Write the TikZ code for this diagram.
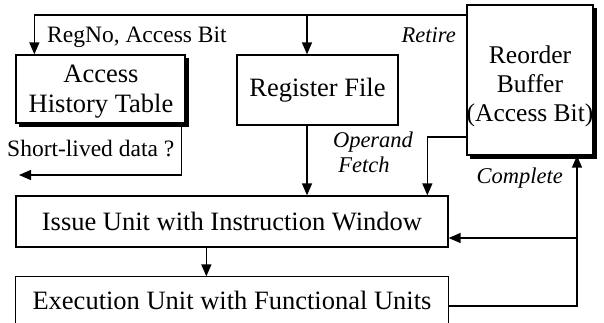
\documentclass[tikz,border=0pt]{standalone}
\usepackage{fontspec}
\setmainfont{Liberation Serif}
\usetikzlibrary{arrows.meta,calc}
\begin{document}
\begin{tikzpicture}[x=1pt,y=-1pt,
  box/.style={draw,line width=1.3pt,fill=white,inner sep=0pt,align=center,font=\fontsize{26.5}{30}\selectfont},
  boxtext/.style={inner sep=0pt,align=center,font=\fontsize{26.5}{30}\selectfont},
  conn/.style={line width=1.4pt},
  arr/.style={conn,-{Triangle[length=12pt,width=10pt]}},
  lbl/.style={font=\fontsize{23.5}{24}\selectfont,inner sep=0pt},
  ilbl/.style={font=\fontsize{22.5}{24}\selectfont\itshape,inner sep=0pt}]
\useasboundingbox (0,0) rectangle (604,323);
% shadows
\fill (19,58) rectangle (189,127);
\fill (470,8) rectangle (597,159);
% boxes
\node[box,minimum width=169pt,minimum height=68pt] (aht) at (100.5,89) {};
\node[boxtext] (ahtt) at (101,92) {Access\\History Table};
\node[box,minimum width=161pt,minimum height=70pt] (rf) at (317.5,90) {Register File};
\node[box,minimum width=126pt,minimum height=150pt] (rob) at (530,80) {};
\node[boxtext,font=\fontsize{25.5}{29}\selectfont] (robt) at (530,86) {Reorder\\Buffer\\(Access Bit)};
\node[box,minimum width=432pt,minimum height=51pt] (iu) at (232,221.5) {Issue Unit with Instruction Window};
\node[box,draw=none,fill=none,minimum width=432pt,minimum height=46pt] (eu) at (232,300) {Execution Unit with Functional Units};
\draw[line width=1.3pt] (eu.south west) -- (eu.north west) -- (eu.north east) -- (eu.south east);
% coordinates
\coordinate (t0) at (467,15);
\coordinate (tx) at (307,15);
\coordinate (r1) at (467,137);
\coordinate (slend) at (19,175);
\coordinate (cx) at (577,306);
\coordinate (cy) at (577,238);
% connectors
\draw[arr] (t0) -| ($(aht.north west)+(19,0)$);
\draw[arr] (tx) -- (rf.north -| tx);
\draw[arr] (rf.south -| tx) -- (iu.north -| tx);
\draw[arr] (r1) -| ($(iu.north west)+(412,0)$);
\draw[arr] ($(aht.south west)+(166,0)$) |- (slend);
\draw[arr] ($(iu.south west)+(191,0)$) -- ($(eu.north west)+(191,0)$);
\draw[arr] (eu.east |- cx) -| (rob.south -| cx);
\draw[arr] (cy) -- (iu.east |- cy);
% labels
\node[lbl,anchor=base west] (l1) at (47,43) {RegNo, Access Bit};
\node[ilbl,anchor=base east] (l2) at (456,43) {Retire};
\node[lbl,anchor=base west] (l3) at (7,157) {Short-lived data ?};
\node[ilbl,anchor=base] (l4) at (373,148) {Operand};
\node[ilbl,anchor=base] (l4b) at (364,172) {Fetch};
\node[ilbl,anchor=base east] (l5) at (563,183) {Complete};
\end{tikzpicture}
\end{document}
